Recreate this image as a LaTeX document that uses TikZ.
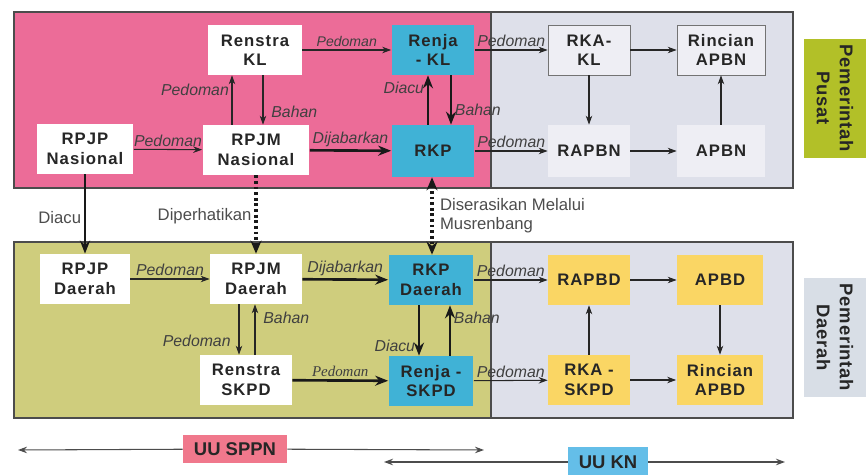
\documentclass[tikz,border=0pt]{standalone}
\usepackage{fontspec}
\setmainfont{Liberation Sans}
\newfontfamily\serifmiring{Liberation Serif}
\usepackage{tikz}
\usetikzlibrary{arrows.meta,positioning,calc}

\definecolor{latarpusat}{RGB}{236,108,152}
\definecolor{latardaerah}{RGB}{207,205,125}
\definecolor{latarabu}{RGB}{222,224,234}
\definecolor{biru}{RGB}{64,178,214}
\definecolor{kuning}{RGB}{250,214,100}
\definecolor{pucat}{RGB}{238,238,244}
\definecolor{hijausisi}{RGB}{178,192,40}
\definecolor{abusisi}{RGB}{216,222,230}
\definecolor{merahuu}{RGB}{240,120,140}
\definecolor{biruuu}{RGB}{100,190,232}

\begin{document}
\begin{tikzpicture}[x=0.02cm, y=-0.02cm,
  kotak/.style={align=center, inner sep=1pt, minimum height=10mm, text=black!85,
                font=\fontsize{9.5}{11}\selectfont\bfseries\addfontfeature{LetterSpace=6}},
  panah/.style={-{Stealth[length=1.8mm, width=1.3mm]}, line width=0.6pt, draw=black!85},
  panahtebal/.style={-{Stealth[length=2.6mm, width=2mm]}, line width=1.5pt, draw=black!90},
  titik/.style={line width=2.2pt, dash pattern=on 1.6pt off 1.6pt, draw=black!90},
  ket/.style={font=\fontsize{9}{10}\selectfont\itshape, text=black!75, inner sep=1.5pt},
  ketlurus/.style={font=\fontsize{9.5}{11}\selectfont, text=black!70, inner sep=1.5pt, align=left},
  bingkai/.style={draw=black!70, line width=0.7pt},
  sisi/.style={rotate=-90, align=center, minimum width=23.2mm, minimum height=12.6mm,
               font=\fontsize{10.5}{13}\selectfont\bfseries\addfontfeature{LetterSpace=4}, text=black!85},
  uu/.style={font=\fontsize{10.5}{12}\selectfont\bfseries, text=black!85, inner sep=1pt},
]
  \useasboundingbox (0,0) rectangle (866,475);

  % latar
  \fill[latarpusat] (14,12) rectangle (491,188);
  \fill[latarabu] (491,12) rectangle (793,188);
  \draw[bingkai] (14,12) rectangle (793,188) (491,12) -- (491,188);
  \fill[latardaerah] (14,242) rectangle (491,418);
  \fill[latarabu] (491,242) rectangle (793,418);
  \draw[bingkai] (14,242) rectangle (793,418) (491,242) -- (491,418);

  % pusat
  \node[kotak, fill=white, minimum width=18.8mm] (renstrakl) at (255,50) {Renstra\\KL};
  \node[kotak, fill=biru, minimum width=16.6mm] (renjakl) at (433,50) {Renja\\- KL};
  \node[kotak, fill=pucat, draw=black!55, minimum width=16.4mm] (rkakl) at (589,50) {RKA-\\KL};
  \node[kotak, fill=pucat, draw=black!55, minimum width=17.6mm] (rincianapbn) at (721,50) {Rincian\\APBN};
  \node[kotak, fill=white, minimum width=19.4mm] (rpjpnas) at (85,149) {RPJP\\Nasional};
  \node[kotak, fill=white, minimum width=21.4mm] (rpjmnas) at (256,150) {RPJM\\Nasional};
  \node[kotak, fill=biru, minimum width=16.6mm, minimum height=10.4mm] (rkp) at (433,151) {RKP};
  \node[kotak, fill=pucat, minimum width=16.4mm, minimum height=10.4mm] (rapbn) at (589,151) {RAPBN};
  \node[kotak, fill=pucat, minimum width=17.6mm, minimum height=10.4mm] (apbn) at (721,151) {APBN};

  % daerah
  \node[kotak, fill=white, minimum width=18mm] (rpjpd) at (85,279) {RPJP\\Daerah};
  \node[kotak, fill=white, minimum width=18.4mm] (rpjmd) at (256,279) {RPJM\\Daerah};
  \node[kotak, fill=biru, minimum width=17mm] (rkpd) at (431,280) {RKP\\Daerah};
  \node[kotak, fill=kuning, minimum width=16.4mm] (rapbd) at (589,280) {RAPBD};
  \node[kotak, fill=kuning, minimum width=17.2mm] (apbd) at (720,280) {APBD};
  \node[kotak, fill=white, minimum width=18.4mm] (renstraskpd) at (246,380) {Renstra\\SKPD};
  \node[kotak, fill=biru, minimum width=17mm] (renjaskpd) at (431,381) {Renja -\\SKPD};
  \node[kotak, fill=kuning, minimum width=16.4mm] (rkaskpd) at (589,380) {RKA -\\SKPD};
  \node[kotak, fill=kuning, minimum width=17.4mm] (rincianapbd) at (720,380) {Rincian\\APBD};

  % sisi kanan
  \node[sisi, fill=hijausisi] (pusat) at (835,98.5) {Pemerintah\\Pusat};
  \node[sisi, fill=abusisi] (daerah) at (835,337.5) {Pemerintah\\Daerah};

  % panah pusat
  \draw[panah] (rpjpnas) -- (rpjmnas) node[midway, above, ket] {Pedoman};
  \draw[panah] (rpjmnas.north -| 232,0) -- (renstrakl.south -| 232,0)
    node[pos=0.7, left, ket] {Pedoman};
  \draw[panah] (renstrakl.south -| 263,0) -- (rpjmnas.north -| 263,0)
    node[pos=0.75, right=3pt, ket] {Bahan};
  \draw[panah] (renstrakl) -- (renjakl)
    node[midway, above, ket, font=\fontsize{8}{9}\selectfont\itshape] {Pedoman};
  \draw[panahtebal] (rpjmnas) -- (rkp) node[midway, above, ket] {Dijabarkan};
  \draw[panahtebal] (rkp.north -| 428,0) -- (renjakl.south -| 428,0)
    node[pos=0.75, left, ket] {Diacu};
  \draw[panahtebal] (renjakl.south -| 451,0) -- (rkp.north -| 451,0)
    node[pos=0.69, right, ket] {Bahan};
  \draw[panah] (renjakl) -- (rkakl) node[midway, above, ket] {Pedoman};
  \draw[panah] (rkakl) -- (rincianapbn);
  \draw[panah] (rkakl) -- (rapbn);
  \draw[panah] (rkp) -- (rapbn) node[midway, above, ket] {Pedoman};
  \draw[panah] (rapbn) -- (apbn);
  \draw[panah] (apbn) -- (rincianapbn);

  % panah antar tingkat
  \draw[panahtebal] (rpjpnas) -- (rpjpd) node[pos=0.55, left, ketlurus] {Diacu};
  \draw[titik, -{Stealth[length=2.6mm, width=2.2mm]}] (rpjmnas) -- (rpjmd)
    node[pos=0.52, left, ketlurus] {Diperhatikan};
  \draw[titik, {Stealth[length=2.6mm, width=2.2mm]}-{Stealth[length=2.6mm, width=2.2mm]}]
    (rkp.south -| 432,0) -- (rkpd.north -| 432,0)
    node[midway, right=2pt, ketlurus] {Diserasikan Melalui\\Musrenbang};

  % panah daerah
  \draw[panah] (rpjpd) -- (rpjmd) node[midway, above, ket] {Pedoman};
  \draw[panahtebal] (rpjmd) -- (rkpd) node[midway, above, ket] {Dijabarkan};
  \draw[panah] (rpjmd.south -| 239,0) -- (renstraskpd.north -| 239,0)
    node[pos=0.72, left=3pt, ket] {Pedoman};
  \draw[panah] (renstraskpd.north -| 255,0) -- (rpjmd.south -| 255,0)
    node[pos=0.73, right=3pt, ket] {Bahan};
  \draw[panahtebal] (renstraskpd) -- (renjaskpd)
    node[midway, above, ket, font=\serifmiring\fontsize{8.5}{10}\selectfont\itshape] {Pedoman};
  \draw[panahtebal] (rkpd.south -| 419,0) -- (renjaskpd.north -| 419,0)
    node[pos=0.8, left, ket] {Diacu};
  \draw[panahtebal] (renjaskpd.north -| 450,0) -- (rkpd.south -| 450,0)
    node[pos=0.76, right, ket] {Bahan};
  \draw[panah] (rkpd) -- (rapbd) node[midway, above, ket] {Pedoman};
  \draw[panah] (rapbd) -- (apbd);
  \draw[panah] (apbd) -- (rincianapbd);
  \draw[panah] (renjaskpd) -- (rkaskpd) node[midway, above, ket] {Pedoman};
  \draw[panah] (rkaskpd) -- (rapbd);
  \draw[panah] (rkaskpd) -- (rincianapbd);

  % undang-undang
  \coordinate (sppnkiri) at (18,450);
  \coordinate (sppnkanan) at (484,450);
  \coordinate (knkiri) at (384,462);
  \coordinate (knkanan) at (785,462);
  \node[uu, fill=merahuu, minimum width=20.8mm, minimum height=5.6mm] (uusppn) at (235,449) {UU SPPN};
  \node[uu, fill=biruuu, minimum width=16mm, minimum height=6mm] (uukn) at (608,462) {UU KN};
  \draw[panah, draw=black!70] (uusppn) -- (sppnkiri);
  \draw[panah, draw=black!70] (uusppn) -- (sppnkanan);
  \draw[panah, draw=black!70] (uukn) -- (knkiri);
  \draw[panah, draw=black!70] (uukn) -- (knkanan);
\end{tikzpicture}
\end{document}
